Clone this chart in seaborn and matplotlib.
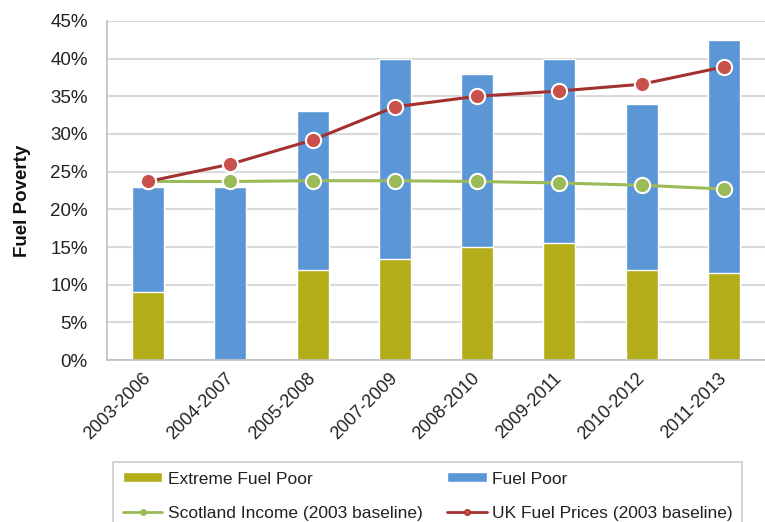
import numpy as np
import pandas as pd
import seaborn as sns
import matplotlib.pyplot as plt
from matplotlib.ticker import PercentFormatter, MultipleLocator, FixedLocator
from matplotlib.lines import Line2D
from matplotlib.patches import Patch

# Data
periods = ["2003-2006", "2004-2007", "2005-2008", "2007-2009",
           "2008-2010", "2009-2011", "2010-2012", "2011-2013"]
fuel_poor = [23.0, 23.0, 33.0, 40.0, 38.0, 40.0, 34.0, 42.5]
extreme_fuel_poor = [9.0, 0.0, 12.0, 13.4, 15.0, 15.5, 12.0, 11.5]
scotland_income = [23.7, 23.7, 23.8, 23.8, 23.7, 23.5, 23.2, 22.7]
uk_fuel_prices = [23.7, 26.0, 29.2, 33.6, 35.0, 35.7, 36.6, 38.9]

OLIVE = "#B4AD1A"
BLUE = "#5B96D6"
GREEN = "#9BBB59"
RED_LINE = "#A3322F"
RED_MARK = "#C9504B"
TXT = "#222222"

sns.set_style("white")
plt.rcParams['font.family'] = ['Liberation Sans', 'DejaVu Sans']

df = pd.DataFrame({"period": periods, "fuel_poor": fuel_poor,
                   "extreme": extreme_fuel_poor})

fig = plt.figure(figsize=(7.65, 5.22), dpi=100)
ax = fig.add_axes([0.14, 0.31, 0.86, 0.65])

# stacked bars: total first, extreme over it
sns.barplot(data=df, x="period", y="fuel_poor", color=BLUE, width=0.39,
            saturation=1, ax=ax, zorder=2)
sns.barplot(data=df, x="period", y="extreme", color=OLIVE, width=0.39,
            saturation=1, ax=ax, zorder=2)

xs = np.arange(len(periods))
ax.plot(xs, scotland_income, color=GREEN, lw=2.2, marker="o", ms=11,
        mfc=GREEN, mec="white", mew=1.5, zorder=4)
ax.plot(xs, uk_fuel_prices, color=RED_LINE, lw=2.2, marker="o", ms=11,
        mfc=RED_MARK, mec="white", mew=1.5, zorder=5)

ax.set_ylim(0, 45)
ax.set_xlim(-0.5, len(periods) - 0.5)
ax.yaxis.set_major_locator(MultipleLocator(5))
ax.yaxis.set_major_formatter(PercentFormatter(decimals=0))
ax.grid(axis="y", color="#D9D9D9", lw=1.5, zorder=0)
ax.set_axisbelow(True)

for s in ["top", "right"]:
    ax.spines[s].set_visible(False)
for s in ["left", "bottom"]:
    ax.spines[s].set_color("#BFBFBF")
    ax.spines[s].set_linewidth(1.2)

ax.xaxis.set_minor_locator(FixedLocator(np.arange(-0.5, len(periods), 1.0)))
ax.tick_params(axis="x", which="major", length=0, pad=11)
ax.tick_params(axis="x", which="minor", length=5, color="#BFBFBF", width=1.2)
ax.tick_params(axis="y", length=3, color="#BFBFBF", width=1.2, pad=11)
ax.set_xticks(xs)
ax.set_xticklabels(periods, rotation=45, ha="right", va="center",
                   rotation_mode="anchor", fontsize=13, color=TXT)
for lbl in ax.get_yticklabels():
    lbl.set_fontsize(13.5)
    lbl.set_color(TXT)

ax.set_xlabel("")
ax.set_ylabel("Fuel Poverty", fontsize=13.5, fontweight="bold",
              color="#111111")
ax.yaxis.set_label_coords(-0.115, 0.47)

# legend fills column-wise, so order is row1 col1, row2 col1, row1 col2, ...
handles = [
    Patch(facecolor=OLIVE, label="Extreme Fuel Poor"),
    Line2D([0], [0], color=GREEN, lw=2, marker="o", ms=4,
           label="Scotland Income (2003 baseline)"),
    Patch(facecolor=BLUE, label="Fuel Poor"),
    Line2D([0], [0], color=RED_LINE, lw=2, marker="o", ms=4, mfc=RED_MARK,
           label="UK Fuel Prices (2003 baseline)"),
]
leg = fig.legend(handles=handles, ncol=2, loc="upper left",
                 bbox_to_anchor=(113 / 765, 1 - 462 / 522), frameon=True,
                 fancybox=False, edgecolor="#BFBFBF", fontsize=12.5,
                 handlelength=2.3, handleheight=0.5, columnspacing=1.4,
                 borderpad=0.55, labelspacing=1.1, handletextpad=0.3,
                 borderaxespad=0)
leg.get_frame().set_linewidth(1.2)
for t in leg.get_texts():
    t.set_color(TXT)

fig.savefig("out.png", dpi=100)
